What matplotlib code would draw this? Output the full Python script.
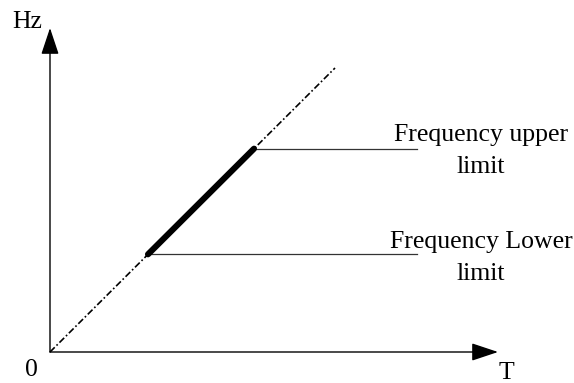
import matplotlib.pyplot as plt

plt.rcParams['font.family'] = ['Liberation Serif', 'DejaVu Serif']

# diagonal frequency-vs-temperature line (relative units, origin at 0)
diag_x = [0, 285]
diag_y = [0, 284]

# operating band between lower and upper frequency limit
band_x = [98, 204]
band_y = [97.7, 203.3]
limit_end = 367

labels = ["Frequency upper\nlimit", "Frequency Lower\nlimit"]

fig = plt.figure(figsize=(5.74, 3.83), dpi=100)
ax = fig.add_axes([0, 0, 1, 1])
ax.set_xlim(-50, 524)
ax.set_ylim(-31, 352)
ax.axis('off')

arrow = dict(arrowstyle='-|>,head_length=1.65,head_width=0.55', color='black',
             lw=1.0, shrinkA=0, shrinkB=0)
ax.annotate('', xy=(448, 0), xytext=(0, 0), arrowprops=arrow)
ax.annotate('', xy=(0, 324), xytext=(0, 0), arrowprops=arrow)

ax.plot(diag_x, diag_y, color='black', lw=1.2, linestyle=(0, (4, 1.5, 1, 1.5)), zorder=2)
ax.plot(band_x, band_y, color='black', lw=4.4, solid_capstyle='round', zorder=4)

ax.plot([band_x[1], limit_end], [band_y[1], band_y[1]], color='#333333', lw=0.9, zorder=3)
ax.plot([band_x[0], limit_end], [band_y[0], band_y[0]], color='#333333', lw=0.9, zorder=3)

fs = 18.5
ax.text(431, 201, labels[0], ha='center', va='center', fontsize=fs, linespacing=1.55)
ax.text(431, 94, labels[1], ha='center', va='center', fontsize=fs, linespacing=1.55)

ax.text(-23, 330, 'Hz', ha='center', va='center', fontsize=fs)
ax.text(-19, -18, '0', ha='center', va='center', fontsize=fs)
ax.text(456, -21, 'T', ha='center', va='center', fontsize=fs)

fig.savefig('out.png', dpi=100)
